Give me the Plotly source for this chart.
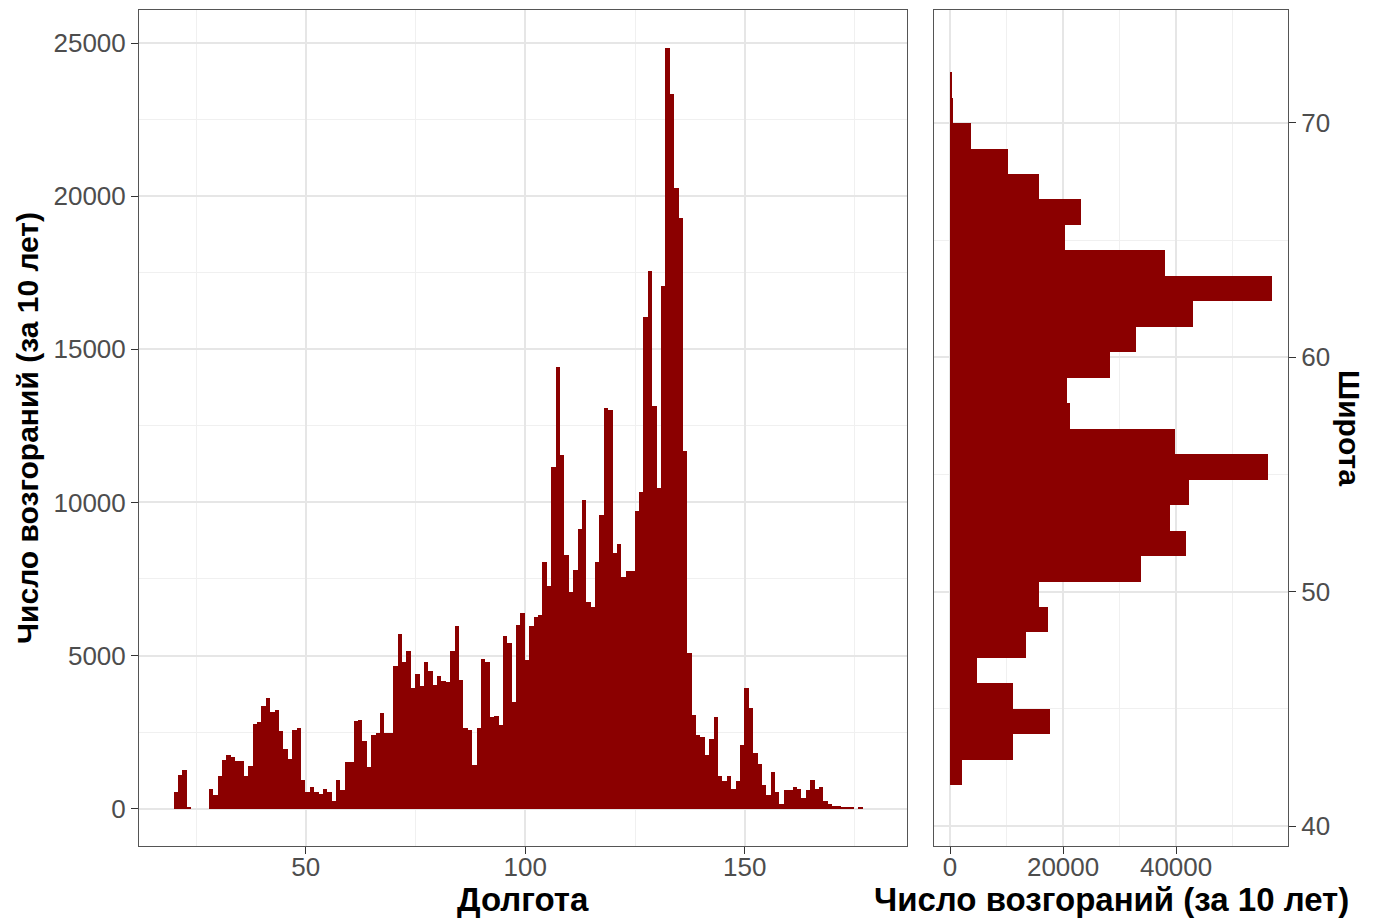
import plotly.graph_objects as go

# ---------------- data ----------------
# Longitude histogram (bin width 1 degree), counts per bin, first bin centred at 20.4
lon_bin_first_center = 20.4
lon_bin_width = 1.0
lon_counts = [
    544, 1088, 1251, 54, 0, 0, 0, 0, 653, 435,
    1055, 1599, 1741, 1686, 1567, 1567, 1055, 1404, 2774, 2829,
    3362, 3612, 3155, 3210, 2524, 1958, 1632, 2557, 2633, 920,
    555, 696, 544, 490, 642, 540, 250, 947, 598, 1512,
    1512, 2872, 2883, 2210, 1370, 2415, 2470, 3123, 2470, 2470,
    4646, 5701, 4800, 5135, 3939, 4385, 3993, 4788, 4483, 4047,
    4330, 4156, 4124, 5135, 5951, 4189, 2633, 2580, 1414, 2633,
    4890, 4780, 3000, 3036, 2742, 5650, 5407, 3490, 6006, 6400,
    4863, 5951, 6256, 6310, 8040, 7279, 11152, 14438, 11555, 8269,
    7072, 7779, 9128, 10086, 6760, 6590, 8045, 9579, 13099, 13003,
    8336, 8643, 7560, 7753, 7753, 9708, 10338, 16039, 17573, 13164,
    10467, 17056, 24842, 23338, 20270, 19302, 11678, 5085, 3050, 2400,
    2328, 1763, 2274, 2981, 1055, 892, 1055, 642, 892, 2067,
    3939, 3286, 1817, 1458, 762, 435, 1197, 544, 152, 598,
    598, 696, 642, 348, 598, 947, 642, 707, 239, 152,
    76, 76, 43, 43, 43, 0, 22,
]
lon_centers = [lon_bin_first_center + i * lon_bin_width for i in range(len(lon_counts))]

# Latitude histogram (28 bins), counts from south to north
lat_bin_first_edge = 41.74
lat_bin_width = 1.0868
lat_counts = [
    2060, 11170, 17640, 11170, 4820, 13350, 17350, 15760, 33750, 41750,
    38990, 42340, 56330, 39870, 21290, 20700, 28350, 32930, 42920, 57040,
    38100, 20400, 23110, 15760, 10290, 3645, 588, 300,
]
lat_centers = [lat_bin_first_edge + (i + 0.5) * lat_bin_width for i in range(len(lat_counts))]

lon_ticks = [50, 100, 150]
lon_minor = [25, 75, 125, 175]
cnt_ticks = [0, 5000, 10000, 15000, 20000, 25000]
cnt_minor = [2500, 7500, 12500, 17500, 22500]
cnt2_ticks = [0, 20000, 40000]
cnt2_minor = [10000, 30000, 50000]
lat_ticks = [40, 50, 60, 70]
lat_minor = [45, 55, 65]

title_lon = "Долгота"
title_lat = "Широта"
title_cnt = "Число возгораний (за 10 лет)"

# ---------------- style ----------------
W, H = 1376, 919
BAR = "#8B0000"
FONT = "Liberation Sans, Arial, sans-serif"
TICKFONT = dict(family=FONT, size=26, color="#4D4D4D")
TITLEFONT_H = dict(family=FONT, size=33, color="#000000")
TITLEFONT_V = dict(family=FONT, size=30, color="#000000")
GRID = "#E6E6E6"
GRID_MINOR = "#F0F0F0"
BORDER = "#555555"


def px_x(p):
    return p / W


def px_y(p):
    return (H - p) / H


common_axis = dict(
    showgrid=True, gridcolor=GRID, gridwidth=1.5,
    ticks="outside", ticklen=7, tickwidth=1.2, tickcolor="#333333",
    tickfont=TICKFONT, showline=True, mirror=True, linecolor=BORDER, linewidth=1,
    zeroline=False, fixedrange=True,
)

fig = go.Figure()
fig.add_trace(go.Bar(
    x=lon_centers, y=lon_counts, width=lon_bin_width,
    marker=dict(color=BAR, line=dict(width=0)),
    xaxis="x", yaxis="y", hoverinfo="skip",
))
fig.add_trace(go.Bar(
    y=lat_centers, x=lat_counts, width=lat_bin_width, orientation="h",
    marker=dict(color=BAR, line=dict(width=0)),
    xaxis="x2", yaxis="y2", hoverinfo="skip",
))

ydom = [px_y(846), px_y(10)]

fig.update_layout(
    width=W, height=H,
    margin=dict(l=0, r=0, t=0, b=0),
    paper_bgcolor="white", plot_bgcolor="white",
    showlegend=False, bargap=0,
    font=dict(family=FONT),
    xaxis=dict(
        common_axis, domain=[px_x(139), px_x(907)], anchor="y",
        range=[12.0, 186.95], ticklabelstandoff=-9,
        tickvals=lon_ticks, ticktext=[str(v) for v in lon_ticks],
        minor=dict(tickvals=lon_minor, showgrid=True, gridcolor=GRID_MINOR, gridwidth=1, ticks=""),
    ),
    yaxis=dict(
        common_axis, domain=ydom, anchor="x",
        range=[-1220, 26080],
        tickvals=cnt_ticks, ticktext=[str(v) for v in cnt_ticks],
        minor=dict(tickvals=cnt_minor, showgrid=True, gridcolor=GRID_MINOR, gridwidth=1, ticks=""),
    ),
    xaxis2=dict(
        common_axis, domain=[px_x(934), px_x(1288)], anchor="y2",
        range=[-2840, 59800], ticklabelstandoff=-9,
        tickvals=cnt2_ticks, ticktext=[str(v) for v in cnt2_ticks],
        minor=dict(tickvals=cnt2_minor, showgrid=True, gridcolor=GRID_MINOR, gridwidth=1, ticks=""),
    ),
    yaxis2=dict(
        common_axis, domain=ydom, anchor="x2", side="right",
        range=[39.15, 74.82],
        tickvals=lat_ticks, ticktext=[str(v) for v in lat_ticks],
        minor=dict(tickvals=lat_minor, showgrid=True, gridcolor=GRID_MINOR, gridwidth=1, ticks=""),
    ),
    annotations=[
        dict(text="<b>" + title_lon + "</b>", x=px_x(523), y=px_y(899), xref="paper", yref="paper",
             xanchor="center", yanchor="middle", showarrow=False, font=TITLEFONT_H),
        dict(text="<b>" + title_cnt + "</b>", x=px_x(1111), y=px_y(899), xref="paper", yref="paper",
             xanchor="center", yanchor="middle", showarrow=False, font=TITLEFONT_H),
        dict(text="<b>" + title_cnt + "</b>", x=px_x(27), y=px_y(428), xref="paper", yref="paper",
             xanchor="center", yanchor="middle", showarrow=False, textangle=-90, font=TITLEFONT_V),
        dict(text="<b>" + title_lat + "</b>", x=px_x(1350), y=px_y(428), xref="paper", yref="paper",
             xanchor="center", yanchor="middle", showarrow=False, textangle=90, font=TITLEFONT_V),
    ],
)

fig.write_html(
    "out.html",
    config={"displayModeBar": False},
    post_script="document.body.style.margin='0';document.body.style.overflow='hidden';",
)
